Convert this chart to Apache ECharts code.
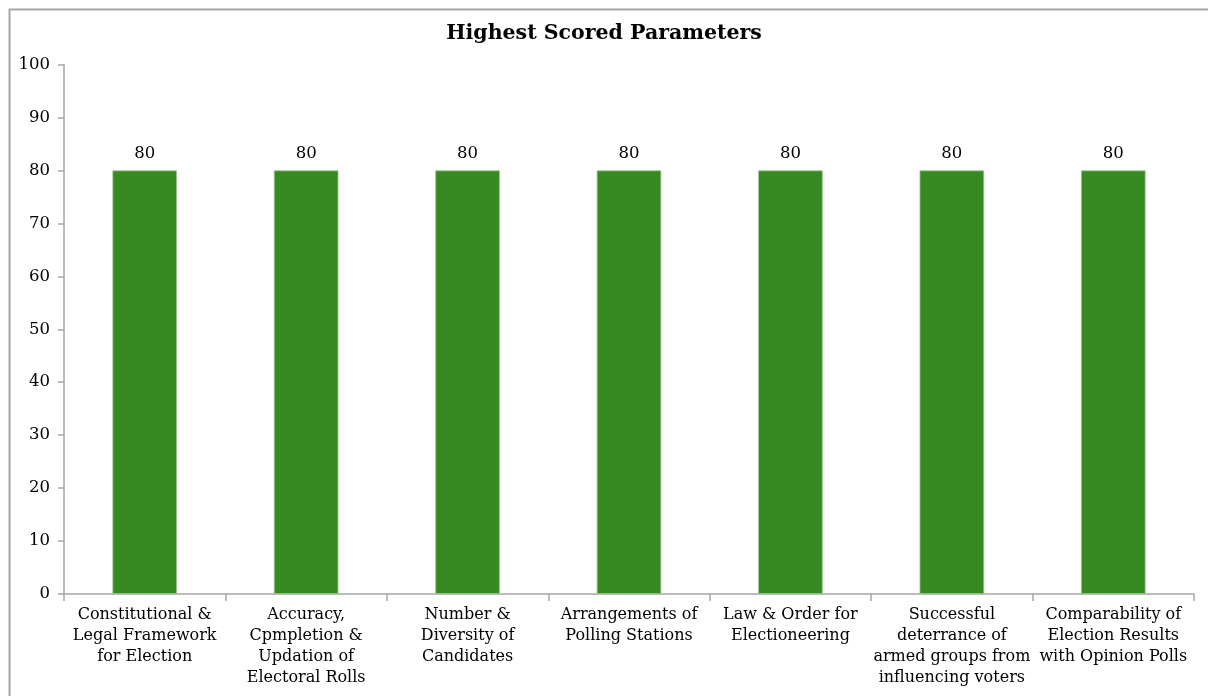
<!DOCTYPE html>
<html>
<head>
<meta charset="utf-8">
<script src="https://cdn.jsdelivr.net/npm/echarts@6/dist/echarts.min.js"></script>
<style>
html,body{margin:0;padding:0;background:#fff;}
#c{width:1208px;height:696px;}
</style>
</head>
<body>
<div id="c"></div>
<script>
const titleText = 'Highest Scored Parameters';
const categories = [
  'Constitutional &\nLegal Framework\nfor Election',
  'Accuracy,\nCpmpletion &\nUpdation of\nElectoral Rolls',
  'Number &\nDiversity of\nCandidates',
  'Arrangements of\nPolling Stations',
  'Law & Order for\nElectioneering',
  'Successful\ndeterrance of\narmed groups from\ninfluencing voters',
  'Comparability of\nElection Results\nwith Opinion Polls'
];
const scores = [80, 80, 80, 80, 80, 80, 80];
const yMin = 0, yMax = 100, yStep = 10;

const FONT = '"DejaVu Serif", "Liberation Serif", serif';
const chart = echarts.init(document.getElementById('c'), null, {renderer: 'canvas'});
chart.setOption({
  animation: false,
  backgroundColor: '#fff',
  title: {
    text: titleText, left: 'center', top: 18,
    textStyle: {fontFamily: FONT, fontWeight: 'bold', fontSize: 20.5, color: '#000'}
  },
  graphic: [{
    type: 'rect', left: 7, top: 7, silent: true,
    shape: {width: 1260, height: 760},
    style: {fill: 'none', stroke: '#a6a6a6', lineWidth: 2}
  }],
  grid: {left: 64, right: 14, top: 64.5, bottom: 102, containLabel: false},
  xAxis: {
    type: 'category', data: categories, boundaryGap: true,
    axisLine: {lineStyle: {color: '#a6a6a6', width: 1.5}},
    axisTick: {show: true, alignWithLabel: false, length: 7, lineStyle: {color: '#a6a6a6', width: 1.5}},
    axisLabel: {interval: 0, fontFamily: FONT, fontSize: 16, color: '#000', lineHeight: 21, margin: 10}
  },
  yAxis: {
    type: 'value', min: yMin, max: yMax, interval: yStep,
    splitLine: {show: false},
    axisLine: {show: true, lineStyle: {color: '#a6a6a6', width: 1.5}},
    axisTick: {show: true, length: 6, lineStyle: {color: '#a6a6a6', width: 1.5}},
    axisLabel: {fontFamily: FONT, fontSize: 16.5, color: '#000', margin: 14}
  },
  series: [{
    type: 'bar', data: scores, barWidth: '40%',
    itemStyle: {color: '#368A21', borderColor: '#9CC48F', borderWidth: 0.8},
    label: {show: true, position: 'top', distance: 8, fontFamily: FONT, fontSize: 16.5, color: '#000'}
  }]
});
</script>
</body>
</html>
